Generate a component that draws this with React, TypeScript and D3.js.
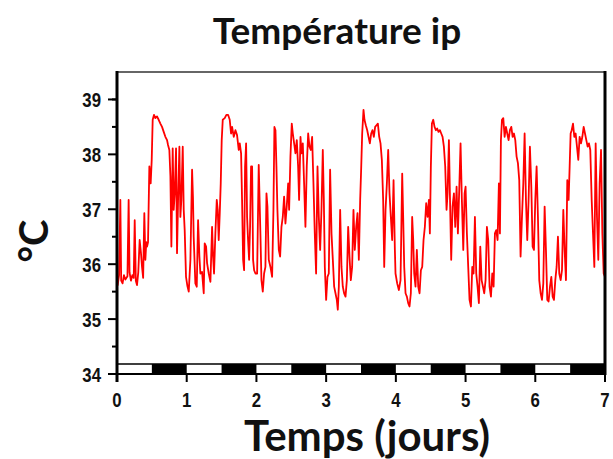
import React from "react";
import * as d3 from "d3";

// [day, °C] readings, one array per day
const day0: [number, number][] = [
  [0.0, 35.75], [0.01, 35.62], [0.03, 35.8], [0.048, 37.17], [0.06, 35.7], [0.08, 35.65], [0.1, 35.8],
  [0.12, 35.72], [0.15, 35.78], [0.167, 37.17], [0.18, 35.85], [0.2, 35.7], [0.22, 35.8], [0.24, 35.75],
  [0.254, 36.8], [0.27, 35.7], [0.287, 35.62], [0.305, 35.85], [0.325, 36.44], [0.344, 36.2], [0.359, 35.95],
  [0.375, 35.75], [0.392, 36.93], [0.407, 36.08], [0.42, 36.4], [0.431, 36.32], [0.445, 36.4], [0.464, 37.78],
  [0.483, 37.47], [0.498, 37.9], [0.512, 38.63], [0.531, 38.72], [0.55, 38.66], [0.574, 38.69], [0.598, 38.63],
  [0.622, 38.56], [0.646, 38.5], [0.67, 38.41], [0.694, 38.32], [0.718, 38.26], [0.732, 38.17], [0.751, 38.08],
  [0.766, 37.6], [0.78, 36.32], [0.799, 38.11], [0.813, 36.99], [0.828, 37.29], [0.847, 38.11], [0.861, 36.2],
  [0.876, 37.17], [0.895, 38.14], [0.909, 36.86], [0.923, 37.17], [0.943, 38.14], [0.957, 36.99], [0.971, 36.62],
  [0.99, 35.77],
];
const day1: [number, number][] = [
  [1.01, 35.6], [1.029, 35.5], [1.053, 36.08], [1.077, 37.72], [1.09, 37.2], [1.1, 36.5], [1.124, 35.65],
  [1.144, 35.59], [1.163, 36.8], [1.182, 36.14], [1.196, 35.83], [1.22, 35.86], [1.244, 35.47], [1.258, 36.38],
  [1.278, 36.32], [1.292, 36.02], [1.316, 35.83], [1.34, 35.68], [1.364, 36.68], [1.378, 36.14], [1.392, 35.83],
  [1.411, 36.56], [1.431, 37.17], [1.445, 36.99], [1.459, 36.44], [1.474, 36.93], [1.488, 37.47], [1.502, 38.26],
  [1.517, 38.63], [1.545, 38.66], [1.569, 38.72], [1.593, 38.72], [1.617, 38.63], [1.636, 38.38], [1.651, 38.5],
  [1.675, 38.32], [1.699, 38.44], [1.722, 38.35], [1.746, 38.08], [1.761, 38.2], [1.78, 38.02], [1.794, 37.17],
  [1.809, 36.08], [1.823, 35.89], [1.837, 37.78], [1.852, 38.2], [1.866, 36.86], [1.88, 36.44], [1.895, 36.08],
  [1.909, 36.68], [1.923, 37.78], [1.938, 37.78], [1.952, 36.08], [1.967, 35.89], [1.986, 35.83],
];
const day2: [number, number][] = [
  [2.01, 35.83], [2.033, 37.81], [2.057, 36.56], [2.072, 35.71], [2.091, 35.5], [2.11, 35.83], [2.129, 35.95],
  [2.144, 37.29], [2.158, 37.05], [2.177, 36.08], [2.201, 35.95], [2.225, 35.77], [2.244, 36.99], [2.258, 38.5],
  [2.273, 38.44], [2.287, 37.78], [2.301, 36.99], [2.321, 36.26], [2.34, 36.14], [2.359, 36.68], [2.378, 36.86],
  [2.397, 37.23], [2.416, 36.74], [2.435, 37.05], [2.455, 37.47], [2.469, 36.99], [2.488, 37.96], [2.507, 38.56],
  [2.522, 38.38], [2.541, 38.2], [2.56, 38.02], [2.579, 38.26], [2.598, 37.78], [2.612, 37.17], [2.632, 38.32],
  [2.646, 38.02], [2.665, 38.2], [2.684, 37.47], [2.703, 36.68], [2.722, 37.78], [2.742, 38.38], [2.761, 38.14],
  [2.78, 38.08], [2.799, 38.32], [2.818, 37.47], [2.837, 36.56], [2.856, 35.83], [2.876, 37.78], [2.895, 36.86],
  [2.914, 36.26], [2.933, 36.99], [2.952, 38.08], [2.967, 37.17], [2.981, 35.95], [3.0, 35.35],
];
const day3: [number, number][] = [
  [3.019, 35.77], [3.038, 35.83], [3.057, 37.72], [3.077, 36.56], [3.096, 36.08], [3.115, 35.59], [3.134, 35.47],
  [3.153, 35.35], [3.167, 35.17], [3.182, 35.59], [3.201, 36.99], [3.22, 35.95], [3.239, 35.59], [3.258, 35.47],
  [3.278, 35.41], [3.297, 35.71], [3.316, 36.68], [3.335, 36.14], [3.354, 35.71], [3.373, 35.95], [3.392, 36.99],
  [3.411, 36.26], [3.431, 36.68], [3.45, 36.93], [3.469, 36.08], [3.488, 37.17], [3.502, 37.72], [3.517, 38.38],
  [3.536, 38.81], [3.55, 38.63], [3.569, 38.53], [3.589, 38.44], [3.608, 38.32], [3.627, 38.2], [3.646, 38.38],
  [3.665, 38.44], [3.684, 38.32], [3.703, 38.5], [3.722, 38.53], [3.742, 38.56], [3.761, 38.32], [3.78, 38.2],
  [3.799, 37.9], [3.818, 37.17], [3.833, 35.95], [3.852, 36.99], [3.871, 37.47], [3.89, 38.08], [3.909, 37.29],
  [3.928, 36.86], [3.947, 36.44], [3.967, 37.53], [3.986, 36.26],
];
const day4: [number, number][] = [
  [3.995, 35.83], [4.019, 35.65], [4.043, 35.53], [4.067, 35.71], [4.091, 37.65], [4.105, 36.86], [4.12, 35.95],
  [4.139, 35.47], [4.158, 35.41], [4.177, 35.29], [4.196, 35.23], [4.215, 35.47], [4.234, 36.86], [4.249, 36.44],
  [4.263, 35.83], [4.282, 35.59], [4.301, 36.26], [4.321, 35.59], [4.34, 35.47], [4.359, 35.89], [4.378, 35.95],
  [4.397, 36.44], [4.416, 36.68], [4.435, 37.11], [4.455, 36.86], [4.474, 37.17], [4.488, 36.56], [4.502, 37.78],
  [4.517, 38.56], [4.536, 38.63], [4.555, 38.5], [4.574, 38.44], [4.593, 38.47], [4.612, 38.41], [4.632, 38.44],
  [4.651, 38.38], [4.67, 38.32], [4.689, 38.14], [4.708, 37.78], [4.727, 36.99], [4.742, 37.29], [4.761, 38.26],
  [4.775, 37.29], [4.794, 36.08], [4.813, 37.05], [4.833, 37.29], [4.852, 36.68], [4.871, 37.41], [4.89, 36.56],
  [4.909, 37.35], [4.928, 38.2], [4.947, 37.17], [4.967, 36.26], [4.986, 37.29],
];
const day5: [number, number][] = [
  [5.0, 37.41], [5.019, 36.56], [5.038, 35.95], [5.057, 35.35], [5.077, 35.23], [5.096, 35.95], [5.115, 35.83],
  [5.134, 36.86], [5.153, 35.83], [5.172, 35.59], [5.191, 35.29], [5.211, 36.32], [5.23, 35.71], [5.249, 35.59],
  [5.268, 35.47], [5.287, 35.71], [5.306, 36.68], [5.325, 36.44], [5.344, 35.59], [5.364, 35.41], [5.383, 35.83],
  [5.402, 35.59], [5.421, 36.56], [5.44, 36.62], [5.459, 36.44], [5.478, 37.47], [5.493, 36.56], [5.507, 38.26],
  [5.522, 38.63], [5.541, 38.66], [5.56, 38.32], [5.579, 38.5], [5.598, 38.38], [5.617, 38.26], [5.636, 38.44],
  [5.656, 38.5], [5.675, 38.32], [5.694, 38.38], [5.713, 38.26], [5.732, 37.96], [5.751, 37.84], [5.77, 37.53],
  [5.789, 36.14], [5.809, 36.86], [5.828, 37.47], [5.847, 38.38], [5.866, 37.17], [5.885, 36.44], [5.904, 37.17],
  [5.923, 38.14], [5.943, 37.41], [5.962, 36.32], [5.981, 36.26],
];
const day6: [number, number][] = [
  [6.0, 37.17], [6.019, 37.78], [6.038, 36.86], [6.057, 35.71], [6.077, 35.47], [6.096, 35.35], [6.115, 35.65],
  [6.134, 37.05], [6.153, 36.26], [6.172, 35.35], [6.191, 35.32], [6.211, 35.59], [6.23, 35.77], [6.249, 35.41],
  [6.268, 35.35], [6.287, 35.71], [6.306, 35.95], [6.325, 36.5], [6.344, 35.83], [6.364, 35.71], [6.383, 35.89],
  [6.402, 36.99], [6.421, 36.26], [6.44, 35.71], [6.459, 37.53], [6.478, 37.17], [6.493, 37.78], [6.507, 38.38],
  [6.522, 38.44], [6.541, 38.56], [6.56, 38.32], [6.579, 38.38], [6.598, 38.14], [6.617, 37.9], [6.636, 38.32],
  [6.656, 38.2], [6.675, 38.32], [6.694, 38.5], [6.713, 38.38], [6.732, 38.26], [6.751, 38.14], [6.77, 38.2],
  [6.789, 38.08], [6.809, 37.17], [6.828, 36.56], [6.847, 35.95], [6.866, 38.2], [6.885, 36.86], [6.904, 36.08],
  [6.923, 37.47], [6.943, 38.08], [6.962, 36.56], [6.981, 35.83], [7.0, 35.77],
];

const xTicks = [0, 1, 2, 3, 4, 5, 6, 7];
const yMajor = [34, 35, 36, 37, 38, 39];
const yMinor = [34.5, 35.5, 36.5, 37.5, 38.5, 39];
// dark phases (start, end) in days
const darkPhases: [number, number][] = [
  [0.5, 1], [1.5, 2], [2.5, 3], [3.5, 4], [4.5, 5], [5.5, 6], [6.5, 7],
];

const title = "Température ip";
const xLabel = "Temps (jours)";
const yLabel = "°C";

export default function App() {
  const x = d3.scaleLinear().domain([0, 7]).range([117, 605]);
  const y = d3.scaleLinear().domain([34, 39.5]).range([374, 72]);
  const data = [...day0, ...day1, ...day2, ...day3, ...day4, ...day5, ...day6];
  const line = d3
    .line<[number, number]>()
    .x((d) => x(d[0]))
    .y((d) => y(d[1]));

  const barTop = y(34) - 10;
  const tickFont = "'Liberation Sans', Arial, sans-serif";
  const labelFont = "Lato, 'Open Sans', sans-serif";

  return (
    <svg
      width={613}
      height={459}
      style={{ position: "absolute", left: 0, top: 0, background: "#fff" }}
    >
      <rect x={0} y={0} width={613} height={459} fill="#fff" />
      <text x={337} y={44} textAnchor="middle" fontFamily={labelFont} fontWeight="bold" fontSize={37} fill="#111">
        {title}
      </text>

      {/* trace */}
      <path d={line(data) || ""} fill="none" stroke="#ff0000" strokeWidth={1.8} strokeLinejoin="round" />

      {/* light/dark bar */}
      <rect x={x(0)} y={barTop} width={x(7) - x(0)} height={y(34) - barTop} fill="#fff" stroke="#000" strokeWidth={1.5} />
      {darkPhases.map(([a, b], i) => (
        <rect key={i} x={x(a)} y={barTop} width={x(b) - x(a)} height={y(34) - barTop} fill="#000" />
      ))}

      {/* frame */}
      <line x1={x(0)} x2={x(7)} y1={72} y2={72} stroke="#666" strokeWidth={2} />
      <line x1={x(7)} x2={x(7)} y1={71} y2={375} stroke="#000" strokeWidth={3} />
      <line x1={x(0)} x2={x(0)} y1={71} y2={382} stroke="#000" strokeWidth={3} />
      <line x1={x(0) - 9} x2={x(7)} y1={y(34)} y2={y(34)} stroke="#000" strokeWidth={2} />

      {/* y ticks */}
      {yMinor.map((v) => (
        <line key={"mn" + v} x1={x(0) - 5} x2={x(0)} y1={y(v)} y2={y(v)} stroke="#000" strokeWidth={2} />
      ))}
      {yMajor.map((v) => (
        <g key={"mj" + v}>
          <line x1={x(0) - 9} x2={x(0)} y1={y(v)} y2={y(v)} stroke="#000" strokeWidth={2} />
          <text
            transform={`translate(${x(0) - 16},${y(v) + 7.5}) scale(0.8,1)`}
            textAnchor="end"
            fontFamily={tickFont}
            fontWeight="bold"
            fontSize={21}
            fill="#111"
          >
            {v}
          </text>
        </g>
      ))}

      {/* x ticks */}
      {xTicks.map((v) => (
        <g key={"x" + v}>
          <line x1={x(v)} x2={x(v)} y1={y(34)} y2={382} stroke="#000" strokeWidth={2} />
          <text
            transform={`translate(${x(v)},${407}) scale(0.8,1)`}
            textAnchor="middle"
            fontFamily={tickFont}
            fontWeight="bold"
            fontSize={21}
            fill="#111"
          >
            {v}
          </text>
        </g>
      ))}

      <text x={367} y={451} textAnchor="middle" fontFamily={labelFont} fontWeight="bold" fontSize={42} fill="#111">
        {xLabel}
      </text>
      <text
        transform="translate(48,241) rotate(-90)"
        textAnchor="middle"
        fontFamily={labelFont}
        fontWeight="bold"
        fontSize={40}
        fill="#111"
      >
        {yLabel}
      </text>
    </svg>
  );
}
